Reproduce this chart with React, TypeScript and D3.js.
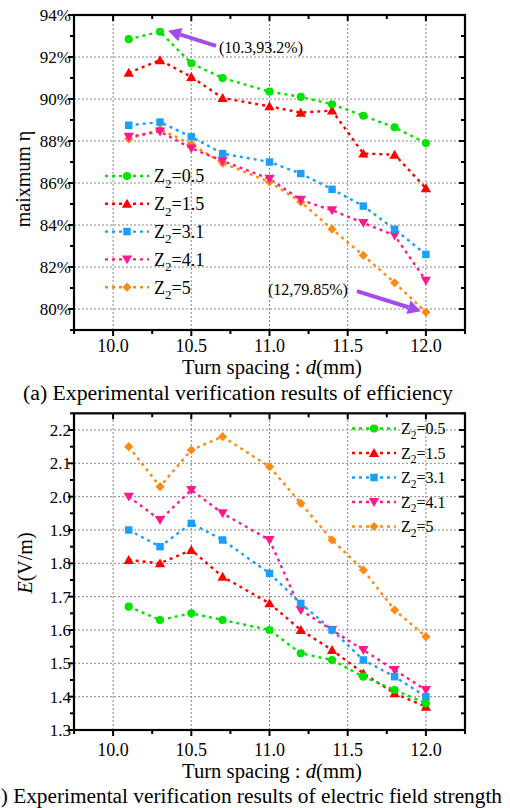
import React from 'react';
import * as d3 from 'd3';

const dSpacing = [10.1, 10.3, 10.5, 10.7, 11.0, 11.2, 11.4, 11.6, 11.8, 12.0];
const zLabels = ['0.5', '1.5', '3.1', '4.1', '5'];
const effZ05 = [92.85, 93.2, 91.7, 91.0, 90.35, 90.1, 89.75, 89.2, 88.65, 87.9];
const effZ15 = [91.25, 91.85, 91.05, 90.05, 89.65, 89.35, 89.45, 87.4, 87.35, 85.75];
const effZ31 = [88.75, 88.9, 88.2, 87.4, 87.0, 86.45, 85.7, 84.9, 83.8, 82.6];
const effZ41 = [88.2, 88.45, 87.65, 87.05, 86.2, 85.2, 84.7, 84.1, 83.5, 81.35];
const effZ5 = [88.1, 88.55, 87.85, 86.95, 86.05, 85.1, 83.8, 82.55, 81.25, 79.85];
const eZ05 = [1.67, 1.63, 1.65, 1.63, 1.6, 1.53, 1.51, 1.46, 1.42, 1.38];
const eZ15 = [1.81, 1.8, 1.84, 1.76, 1.68, 1.6, 1.54, 1.47, 1.41, 1.37];
const eZ31 = [1.9, 1.85, 1.92, 1.87, 1.77, 1.68, 1.6, 1.51, 1.46, 1.4];
const eZ41 = [2.0, 1.93, 2.02, 1.95, 1.87, 1.66, 1.6, 1.54, 1.48, 1.42];
const eZ5 = [2.15, 2.03, 2.14, 2.18, 2.09, 1.98, 1.87, 1.78, 1.66, 1.58];
const xTicks = [10.0, 10.5, 11.0, 11.5, 12.0];
const xMinor = [9.75, 10.25, 10.75, 11.25, 11.75, 12.25];
const effTicks = [80, 82, 84, 86, 88, 90, 92, 94];
const effMinor = [79, 81, 83, 85, 87, 89, 91, 93];
const eTicks = [1.3, 1.4, 1.5, 1.6, 1.7, 1.8, 1.9, 2.0, 2.1, 2.2];
const eMinor = [1.35, 1.45, 1.55, 1.65, 1.75, 1.85, 1.95, 2.05, 2.15, 2.25];

const COLORS = ['#00e400', '#ff0000', '#1a9fff', '#ff1a8c', '#ff8a10'];
const SHAPES = ['circle', 'tri', 'square', 'tridown', 'diamond'];
const FONT = '"Liberation Serif","Times New Roman",serif';
const PURPLE = '#a24cf0';

function markerPath(shape: string) {
  switch (shape) {
    case 'circle': return d3.symbol(d3.symbolCircle, 52)()!;
    case 'tri': return d3.symbol(d3.symbolTriangle, 46)()!;
    case 'tridown': return d3.symbol(d3.symbolTriangle, 46)()!;
    case 'square': return d3.symbol(d3.symbolSquare, 56)()!;
    default: return d3.symbol(d3.symbolSquare, 42)()!;
  }
}
function markerRot(shape: string) {
  if (shape === 'tridown') return 180;
  if (shape === 'diamond') return 45;
  return 0;
}

function Marker({ x, y, i }: { x: number; y: number; i: number }) {
  const s = SHAPES[i];
  const dy = s === 'tri' ? 1 : s === 'tridown' ? -1 : 0;
  return (
    <path d={markerPath(s)} fill={COLORS[i]} transform={`translate(${x},${y + dy}) rotate(${markerRot(s)})`} />
  );
}

function Arrow({ x1, y1, x2, y2 }: { x1: number; y1: number; x2: number; y2: number }) {
  const ang = Math.atan2(y2 - y1, x2 - x1);
  const hl = 13, hw = 7;
  const bx = x2 - hl * Math.cos(ang), by = y2 - hl * Math.sin(ang);
  const px = -Math.sin(ang), py = Math.cos(ang);
  return (
    <g>
      <line x1={x1} y1={y1} x2={bx} y2={by} stroke={PURPLE} strokeWidth={4} />
      <path d={`M${x2},${y2}L${bx + px * hw},${by + py * hw}L${bx - px * hw},${by - py * hw}Z`} fill={PURPLE} />
    </g>
  );
}

type ChartProps = {
  series: number[][];
  yDomain: [number, number];
  yRange: [number, number];
  yTicks: number[];
  yMinor: number[];
  yFmt: (v: number) => string;
  xLabelDy: number;
  legendX: number;
  legendY: number;
  legendStep: number;
  legendFont: number;
  children?: (x: d3.ScaleLinear<number, number>, y: d3.ScaleLinear<number, number>) => React.ReactNode;
};

function Chart(p: ChartProps) {
  const x = d3.scaleLinear().domain([9.75, 12.25]).range([74, 465]);
  const y = d3.scaleLinear().domain(p.yDomain).range(p.yRange);
  const [x0, x1] = x.range();
  const y0 = y.range()[0], y1 = y.range()[1];
  const line = d3.line<number>().x((_, i) => x(dSpacing[i])).y((d) => y(d));
  const order = [4, 3, 2, 1, 0];
  return (
    <g>
      {xTicks.map((t) => (
        <line key={'gx' + t} x1={x(t)} x2={x(t)} y1={y0} y2={y1} stroke="#888" strokeWidth={1} strokeDasharray="2,2" />
      ))}
      {p.yTicks.map((t) => (
        <line key={'gy' + t} x1={x0} x2={x1} y1={y(t)} y2={y(t)} stroke="#888" strokeWidth={1} strokeDasharray="2,2" />
      ))}
      {order.map((i) => (
        <path key={'l' + i} d={line(p.series[i])!} fill="none" stroke={COLORS[i]} strokeWidth={2.4} strokeDasharray="3,4" />
      ))}
      {order.map((i) => (
        <g key={'m' + i}>
          {p.series[i].map((v, j) => (
            <Marker key={j} x={x(dSpacing[j])} y={y(v)} i={i} />
          ))}
        </g>
      ))}
      {xTicks.map((t) => (
        <g key={'tx' + t}>
          <line x1={x(t)} x2={x(t)} y1={y0} y2={y0 + 6} stroke="#000" strokeWidth={2} />
          <line x1={x(t)} x2={x(t)} y1={y1} y2={y1 + 6} stroke="#000" strokeWidth={2} />
        </g>
      ))}
      {xMinor.map((t) => (
        <g key={'mx' + t}>
          <line x1={x(t)} x2={x(t)} y1={y0} y2={y0 + 4} stroke="#000" strokeWidth={2} />
          <line x1={x(t)} x2={x(t)} y1={y1} y2={y1 + 4} stroke="#000" strokeWidth={2} />
        </g>
      ))}
      {p.yTicks.map((t) => (
        <g key={'ty' + t}>
          <line x1={x0 - 6} x2={x0} y1={y(t)} y2={y(t)} stroke="#000" strokeWidth={2} />
          <line x1={x1 - 6} x2={x1} y1={y(t)} y2={y(t)} stroke="#000" strokeWidth={2} />
        </g>
      ))}
      {p.yMinor.map((t) => (
        <g key={'my' + t}>
          <line x1={x0 - 4} x2={x0} y1={y(t)} y2={y(t)} stroke="#000" strokeWidth={2} />
          <line x1={x1 - 4} x2={x1} y1={y(t)} y2={y(t)} stroke="#000" strokeWidth={2} />
        </g>
      ))}
      <rect x={x0} y={y1} width={x1 - x0} height={y0 - y1} fill="none" stroke="#000" strokeWidth={2.2} />
      {xTicks.map((t) => (
        <text key={'lx' + t} x={x(t)} y={y0 + p.xLabelDy} textAnchor="middle" fontSize={18} fontFamily={FONT}>
          {t.toFixed(1)}
        </text>
      ))}
      {p.yTicks.map((t) => (
        <text key={'ly' + t} x={x0 - 3} y={y(t)} dy="0.35em" textAnchor="end" fontSize={17} fontFamily={FONT}>
          {p.yFmt(t)}
        </text>
      ))}
      {zLabels.map((z, i) => {
        const ly = p.legendY + i * p.legendStep;
        const lx = p.legendX;
        return (
          <g key={'lg' + i}>
            <line x1={lx} x2={lx + 44} y1={ly} y2={ly} stroke={COLORS[i]} strokeWidth={2.4} strokeDasharray="3,4" />
            <Marker x={lx + 22} y={ly} i={i} />
            <text x={lx + 49} y={ly + p.legendFont * 0.35} fontSize={p.legendFont} fontFamily={FONT}>
              Z<tspan fontSize={p.legendFont * 0.72} dy={p.legendFont * 0.3}>2</tspan>
              <tspan dy={-p.legendFont * 0.3}>={z}</tspan>
            </text>
          </g>
        );
      })}
      {p.children && p.children(x, y)}
    </g>
  );
}

export default function App() {
  return (
    <svg width={510} height={808} style={{ position: 'absolute', left: 0, top: 0, background: '#fff' }}>
      <rect width={510} height={808} fill="#fff" />
      <Chart
        series={[effZ05, effZ15, effZ31, effZ41, effZ5]}
        yDomain={[79, 94]}
        yRange={[330, 15]}
        yTicks={effTicks}
        yMinor={effMinor}
        yFmt={(v) => `${v}%`}
        xLabelDy={22}
        legendX={105}
        legendY={176}
        legendStep={27.8}
        legendFont={18}
      >
        {(x, y) => (
          <g>
            <Arrow x1={x(10.3) + 56} y1={y(93.2) + 14} x2={x(10.3) + 8} y2={y(93.2) - 1} />
            <text x={x(10.3) + 59} y={y(93.2) + 21} fontSize={16} fontFamily={FONT}>(10.3,93.2%)</text>
            <Arrow x1={x(12.0) - 69} y1={y(79.85) - 21} x2={x(12.0) - 5} y2={y(79.85) - 1} />
            <text x={x(12.0) - 158} y={y(79.85) - 17} fontSize={16} fontFamily={FONT}>(12,79.85%)</text>
          </g>
        )}
      </Chart>
      <text x={182} y={374} fontSize={20} fontFamily={FONT} textLength={180} lengthAdjust="spacingAndGlyphs">
        Turn spacing : <tspan fontStyle="italic">d</tspan>(mm)
      </text>
      <text x={23} y={400} fontSize={20} fontFamily={FONT} textLength={430} lengthAdjust="spacingAndGlyphs">
        (a) Experimental verification results of efficiency
      </text>
      <text transform="translate(30,179) rotate(-90)" textAnchor="middle" fontSize={20} fontFamily={FONT}>
        maixmum η
      </text>

      <Chart
        series={[eZ05, eZ15, eZ31, eZ41, eZ5]}
        yDomain={[1.3, 2.25]}
        yRange={[730, 413.33]}
        yTicks={eTicks}
        yMinor={eMinor}
        yFmt={(v) => v.toFixed(1)}
        xLabelDy={26}
        legendX={352}
        legendY={428.5}
        legendStep={24.5}
        legendFont={16}
      />
      <text x={182} y={778} fontSize={20} fontFamily={FONT} textLength={180} lengthAdjust="spacingAndGlyphs">
        Turn spacing : <tspan fontStyle="italic">d</tspan>(mm)
      </text>
      <text x={-17} y={803} fontSize={20.5} fontFamily={FONT} textLength={519} lengthAdjust="spacingAndGlyphs">
        (b) Experimental verification results of electric field strength
      </text>
      <text transform="translate(32,563) rotate(-90)" textAnchor="middle" fontSize={20} fontFamily={FONT}>
        <tspan fontStyle="italic">E</tspan>(V/m)
      </text>
    </svg>
  );
}
